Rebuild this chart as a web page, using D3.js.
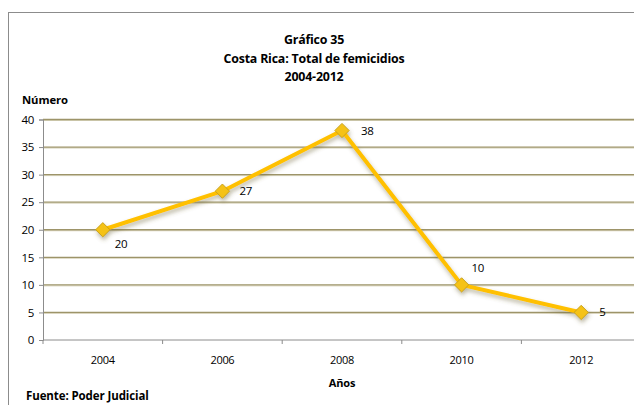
<!DOCTYPE html>
<html>
<head>
<meta charset="utf-8">
<script src="https://cdn.jsdelivr.net/npm/d3@7"></script>
<style>
  html, body { margin: 0; padding: 0; background: #fff; }
  svg { display: block; font-family: "Open Sans", Arial, sans-serif; }
</style>
</head>
<body>
<svg id="chart" width="634" height="405"></svg>
<script>
// Femicide totals by year
const years = ["2004", "2006", "2008", "2010", "2012"];
const values = [20, 27, 38, 10, 5];
const yTicks = [0, 5, 10, 15, 20, 25, 30, 35, 40];
const titleLines = ["Gráfico 35", "Costa Rica: Total de femicidios", "2004-2012"];
// label placement relative to each point: [dx, dy]
const labelOffsets = [[12, 18], [17, 4], [19, 4], [10, -13], [18, 4]];

const svg = d3.select("#chart");
const margin = { left: 43, top: 119.5, right: -7, bottom: 65 };
const W = 634, H = 405;

const x = d3.scaleBand().domain(years).range([margin.left, W - margin.right]).padding(0);
const y = d3.scaleLinear().domain([0, 40]).range([H - margin.bottom, margin.top]);

const defs = svg.append("defs");
const shadow = defs.append("filter").attr("id", "shadow")
  .attr("x", "-20%").attr("y", "-20%").attr("width", "140%").attr("height", "160%");
shadow.append("feDropShadow").attr("dx", 1).attr("dy", 3).attr("stdDeviation", 2.2)
  .attr("flood-color", "#6b6130").attr("flood-opacity", 0.45);

// outer frame
svg.append("rect").attr("x", 8.5).attr("y", 12.5).attr("width", 640).attr("height", 420)
  .attr("fill", "none").attr("stroke", "#8c8c8c").attr("stroke-width", 1);

// titles
svg.selectAll(".title").data(titleLines).join("text")
  .attr("x", 314).attr("y", (d, i) => 44 + i * 18.5)
  .attr("text-anchor", "middle").attr("font-weight", "bold").attr("font-size", 12.4)
  .attr("letter-spacing", -0.2).attr("fill", "#000").text(d => d);

svg.append("text").attr("x", 22).attr("y", 104).attr("font-weight", "bold")
  .attr("font-size", 11.3).attr("letter-spacing", -0.1).text("Número");

// gridlines
const grid = svg.append("g");
grid.selectAll("line.g1").data(yTicks.filter(d => d > 0)).join("line")
  .attr("x1", margin.left).attr("x2", W).attr("y1", d => y(d) + 1).attr("y2", d => y(d) + 1)
  .attr("stroke", "#d9d4bd").attr("stroke-width", 1);
grid.selectAll("line.g2").data(yTicks.filter(d => d > 0)).join("line")
  .attr("x1", margin.left).attr("x2", W).attr("y1", d => y(d)).attr("y2", d => y(d))
  .attr("stroke", "#9d9469").attr("stroke-width", 1.3);

// y axis
const yAxis = svg.append("g").attr("transform", `translate(${margin.left},0)`)
  .call(d3.axisLeft(y).tickValues(yTicks).tickSize(4).tickPadding(5));
yAxis.select(".domain").attr("stroke", "#8c8c8c");
yAxis.selectAll(".tick line").attr("stroke", "#8c8c8c");
yAxis.selectAll(".tick text").attr("font-size", 11.5).attr("fill", "#000")
  .attr("font-family", "'Open Sans', Arial, sans-serif").attr("letter-spacing", -0.3);

// x axis with ticks at category boundaries
const xAxisG = svg.append("g").attr("transform", `translate(0,${y(0)})`);
xAxisG.append("line").attr("x1", margin.left).attr("x2", W).attr("stroke", "#8c8c8c");
const bounds = years.map(d => x(d)).concat([x(years[years.length - 1]) + x.bandwidth()]);
xAxisG.selectAll("line.tk").data(bounds).join("line").attr("class", "tk")
  .attr("x1", d => d).attr("x2", d => d).attr("y1", 0).attr("y2", 4).attr("stroke", "#8c8c8c");
xAxisG.selectAll("text").data(years).join("text")
  .attr("x", d => x(d) + x.bandwidth() / 2).attr("y", 24)
  .attr("text-anchor", "middle").attr("font-size", 11).attr("letter-spacing", -0.3).text(d => d);

svg.append("text").attr("x", 342).attr("y", 387).attr("text-anchor", "middle")
  .attr("font-weight", "bold").attr("font-size", 11).attr("letter-spacing", -0.1).text("Años");
svg.append("text").attr("x", 26).attr("y", 400).attr("font-weight", "bold")
  .attr("font-size", 11.5).attr("letter-spacing", -0.1).text("Fuente: Poder Judicial");

// series line and markers
const cx = d => x(d) + x.bandwidth() / 2;
const pts = years.map((yr, i) => ({ yr, v: values[i], i }));
const line = d3.line().x(d => cx(d.yr)).y(d => y(d.v));

const series = svg.append("g").attr("filter", "url(#shadow)");
series.append("path").datum(pts).attr("d", line)
  .attr("fill", "none").attr("stroke", "#ffc000").attr("stroke-width", 4)
  .attr("stroke-linejoin", "round");
series.selectAll("path.m").data(pts).join("path").attr("class", "m")
  .attr("d", d3.symbol().type(d3.symbolDiamond2).size(130))
  .attr("transform", d => `translate(${cx(d.yr)},${y(d.v)})`)
  .attr("fill", "#f5c218").attr("stroke", "#c9a21c").attr("stroke-width", 1);

// value labels
svg.selectAll("text.val").data(pts).join("text").attr("class", "val")
  .attr("x", d => cx(d.yr) + labelOffsets[d.i][0])
  .attr("y", d => y(d.v) + labelOffsets[d.i][1])
  .attr("font-size", 11.5).attr("letter-spacing", -0.3).attr("fill", "#000").text(d => d.v);
</script>
</body>
</html>
